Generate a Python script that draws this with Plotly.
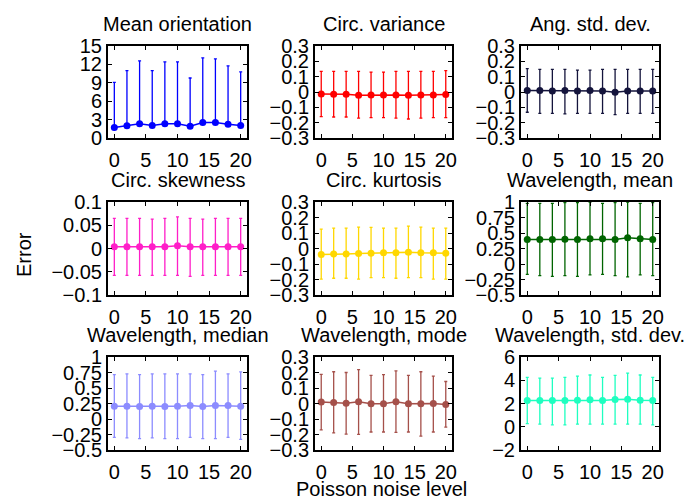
import plotly.graph_objects as go

W, H = 693, 502

noise_level = [0, 2, 4, 6, 8, 10, 12, 14, 16, 18, 20]

titles = ["Mean orientation", "Circ. variance", "Ang. std. dev.",
          "Circ. skewness", "Circ. kurtosis", "Wavelength, mean",
          "Wavelength, median", "Wavelength, mode", "Wavelength, std. dev."]

colors = ["#0000ff", "#ff0000", "#14143c",
          "#ff1ec8", "#ffd700", "#006400",
          "#8c8cff", "#a5504a", "#1effc0"]

# means
mean_orientation = [1.70, 1.98, 2.31, 2.03, 2.31, 2.31, 1.92, 2.53, 2.53, 2.25, 2.03]
circ_variance = [-0.013, -0.015, -0.015, -0.022, -0.020, -0.020, -0.020, -0.022, -0.020, -0.020, -0.017]
ang_std_dev = [0.009, 0.009, 0.007, 0.009, 0.007, 0.009, 0.007, -0.002, 0.007, 0.007, 0.007]
circ_skewness = [0.004, 0.004, 0.004, 0.004, 0.004, 0.006, 0.004, 0.004, 0.004, 0.004, 0.004]
circ_kurtosis = [-0.039, -0.035, -0.035, -0.032, -0.030, -0.028, -0.028, -0.024, -0.028, -0.028, -0.030]
wl_mean = [0.396, 0.396, 0.396, 0.401, 0.396, 0.407, 0.407, 0.396, 0.423, 0.407, 0.396]
wl_median = [0.207, 0.207, 0.202, 0.207, 0.202, 0.207, 0.218, 0.202, 0.218, 0.218, 0.207]
wl_mode = [0.009, 0.006, 0.002, 0.011, -0.002, -0.002, 0.011, -0.002, -0.002, 0.000, -0.006]
wl_std_dev = [2.26, 2.26, 2.26, 2.26, 2.29, 2.32, 2.26, 2.35, 2.37, 2.29, 2.26]

# upper / lower error bar ends
upper = [
    [9.07, 10.99, 12.58, 10.99, 12.42, 12.42, 9.78, 13.08, 12.91, 11.76, 10.77],
    [0.135, 0.135, 0.135, 0.135, 0.130, 0.130, 0.135, 0.135, 0.135, 0.135, 0.139],
    [0.152, 0.148, 0.148, 0.148, 0.143, 0.143, 0.148, 0.148, 0.148, 0.148, 0.148],
    [0.065, 0.065, 0.065, 0.063, 0.065, 0.068, 0.065, 0.063, 0.065, 0.065, 0.065],
    [0.125, 0.132, 0.132, 0.138, 0.136, 0.132, 0.132, 0.145, 0.138, 0.132, 0.132],
    [0.979, 0.979, 0.979, 0.990, 0.990, 1.000, 0.979, 0.990, 1.000, 0.979, 0.990],
    [0.717, 0.728, 0.717, 0.728, 0.728, 0.728, 0.728, 0.717, 0.771, 0.728, 0.760],
    [0.188, 0.205, 0.200, 0.218, 0.181, 0.186, 0.210, 0.181, 0.205, 0.177, 0.142],
    [4.24, 4.19, 4.19, 4.24, 4.36, 4.45, 4.24, 4.42, 4.62, 4.45, 4.24],
]
lower = [
    [1.70, 1.98, 2.31, 2.03, 2.31, 2.31, 1.92, 2.53, 2.53, 2.25, 2.03],
    [-0.160, -0.163, -0.163, -0.170, -0.167, -0.167, -0.170, -0.176, -0.170, -0.167, -0.167],
    [-0.132, -0.139, -0.139, -0.143, -0.139, -0.139, -0.139, -0.148, -0.139, -0.139, -0.139],
    [-0.058, -0.058, -0.058, -0.058, -0.058, -0.058, -0.060, -0.058, -0.058, -0.058, -0.058],
    [-0.197, -0.192, -0.192, -0.197, -0.188, -0.188, -0.192, -0.188, -0.188, -0.197, -0.197],
    [-0.166, -0.187, -0.198, -0.187, -0.198, -0.176, -0.166, -0.187, -0.209, -0.176, -0.187],
    [-0.295, -0.306, -0.317, -0.306, -0.317, -0.317, -0.295, -0.317, -0.317, -0.295, -0.328],
    [-0.170, -0.190, -0.197, -0.199, -0.184, -0.184, -0.186, -0.184, -0.210, -0.184, -0.153],
    [0.27, 0.22, 0.16, 0.16, 0.22, 0.22, 0.22, 0.22, 0.22, 0.22, 0.16],
]

means = [mean_orientation, circ_variance, ang_std_dev, circ_skewness, circ_kurtosis,
         wl_mean, wl_median, wl_mode, wl_std_dev]

ytick_vals = [
    [0, 3, 6, 9, 12, 15],
    [-0.3, -0.2, -0.1, 0, 0.1, 0.2, 0.3],
    [-0.3, -0.2, -0.1, 0, 0.1, 0.2, 0.3],
    [-0.1, -0.05, 0, 0.05, 0.1],
    [-0.3, -0.2, -0.1, 0, 0.1, 0.2, 0.3],
    [-0.5, -0.25, 0, 0.25, 0.5, 0.75, 1],
    [-0.5, -0.25, 0, 0.25, 0.5, 0.75, 1],
    [-0.3, -0.2, -0.1, 0, 0.1, 0.2, 0.3],
    [-2, 0, 2, 4, 6],
]
xtick_vals = [0, 5, 10, 15, 20]


def fmt(v):
    s = ("%g" % v)
    return s.replace("-", "\u2212")


# layout in pixels
col_px = [(108, 247), (315, 452), (521, 659)]
row_px = [(46, 138), (202, 295), (357, 450)]

FONT = "Liberation Sans, Arial, Helvetica, sans-serif"
FS = 20

fig = go.Figure()
layout = dict(
    template="none",
    width=W, height=H, autosize=False,
    margin=dict(l=0, r=0, t=0, b=0, pad=0, autoexpand=False),
    paper_bgcolor="white", plot_bgcolor="white",
    font=dict(family=FONT, size=FS, color="black"),
    showlegend=False,
)
annotations = []

for i in range(9):
    r, c = divmod(i, 3)
    n = i + 1
    xa = "xaxis" if n == 1 else f"xaxis{n}"
    ya = "yaxis" if n == 1 else f"yaxis{n}"
    xr = "x" if n == 1 else f"x{n}"
    yr = "y" if n == 1 else f"y{n}"
    x0, x1 = col_px[c]
    y0, y1 = row_px[r]
    m = means[i]
    up = [u - v for u, v in zip(upper[i], m)]
    dn = [v - l for v, l in zip(m, lower[i])]
    fig.add_trace(go.Scatter(
        x=noise_level, y=m, mode="lines+markers",
        line=dict(color=colors[i], width=1.5),
        marker=dict(color=colors[i], size=7, line=dict(width=0)),
        error_y=dict(type="data", symmetric=False, array=up, arrayminus=dn,
                     color=colors[i], thickness=1.3, width=1.5),
        xaxis=xr, yaxis=yr, cliponaxis=True,
    ))
    yv = ytick_vals[i]
    layout[xa] = dict(
        domain=[x0 / W, x1 / W], anchor=yr, range=[-1, 21], automargin=False,
        tickvals=xtick_vals, ticktext=[fmt(v) for v in xtick_vals],
        ticks="inside", ticklen=4, tickwidth=1, tickcolor="black",
        ticklabelstandoff=3,
        showline=True, linecolor="black", linewidth=2, mirror="ticks",
        showgrid=False, zeroline=False,
        tickfont=dict(family=FONT, size=FS, color="black"),
    )
    layout[ya] = dict(
        domain=[1 - y1 / H, 1 - y0 / H], anchor=xr, range=[yv[0], yv[-1]],
        automargin=False,
        tickvals=yv, ticktext=[fmt(v) for v in yv],
        ticks="inside", ticklen=4, tickwidth=1, tickcolor="black",
        showline=True, linecolor="black", linewidth=2, mirror="ticks",
        showgrid=False, zeroline=False,
        tickfont=dict(family=FONT, size=FS, color="black"),
    )
    annotations.append(dict(
        text=titles[i], xref="paper", yref="paper",
        x=(x0 + x1) / 2 / W, y=1 - (y0 - 22) / H,
        xanchor="center", yanchor="middle", showarrow=False,
        font=dict(family=FONT, size=FS, color="black"),
    ))

annotations.append(dict(
    text="Error", xref="paper", yref="paper", x=24 / W, y=1 - 255 / H,
    xanchor="center", yanchor="middle", textangle=-90, showarrow=False,
    font=dict(family=FONT, size=FS, color="black"),
))
annotations.append(dict(
    text="Poisson noise level", xref="paper", yref="paper", x=381 / W, y=1 - 489 / H,
    xanchor="center", yanchor="middle", showarrow=False,
    font=dict(family=FONT, size=FS, color="black"),
))
layout["annotations"] = annotations
fig.update_layout(**layout)
fig.write_html("out.html",
               config={"displayModeBar": False, "responsive": False},
               post_script="document.body.style.margin='0';document.body.style.overflow='hidden';")
